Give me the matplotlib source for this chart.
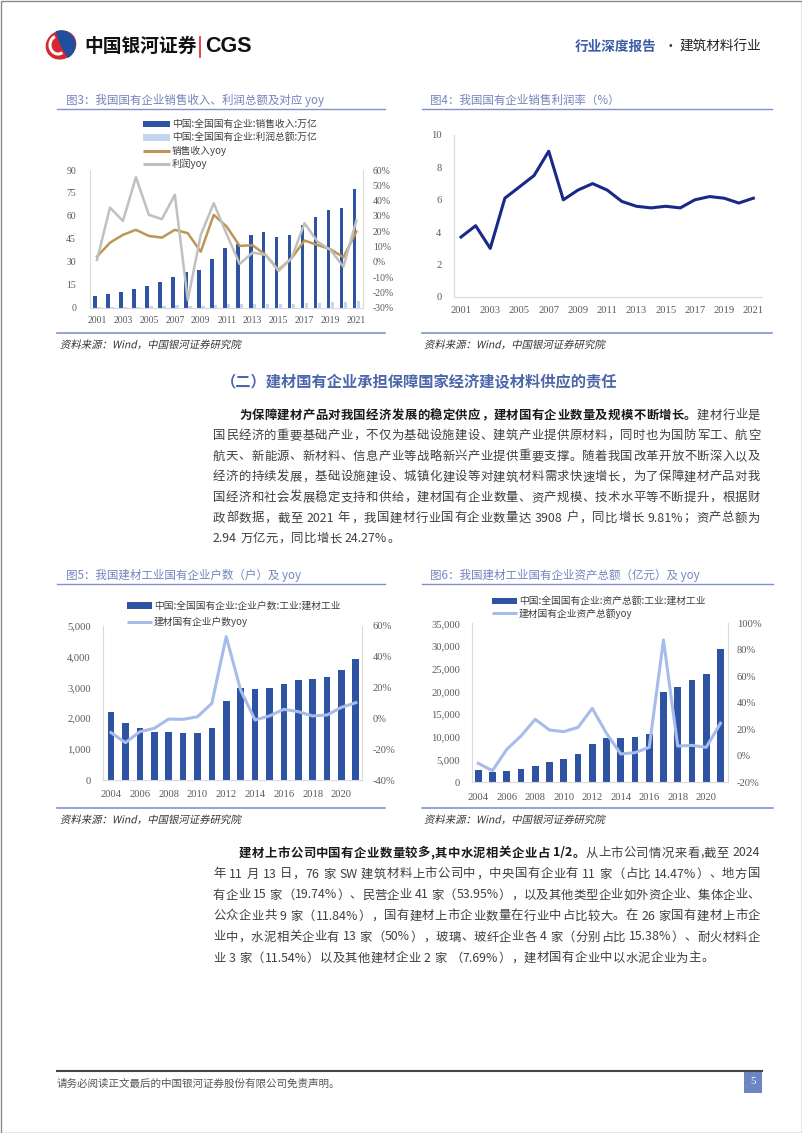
import re
import matplotlib
matplotlib.use('Agg')
import matplotlib.pyplot as plt
from matplotlib.patches import Rectangle, Ellipse, Wedge, Arc, PathPatch
from matplotlib.font_manager import FontProperties
from matplotlib.textpath import TextPath
from matplotlib.transforms import Affine2D

plt.rcParams['font.family'] = ['Noto Sans CJK SC', 'DejaVu Sans']

# 图3 数据 (万亿 / %)
years_a = [str(y) for y in range(2001, 2022)]
sales_rev = [7.8, 8.7, 10.0, 12.2, 14.2, 16.6, 19.8, 23.1, 24.6, 31.8, 38.9,
             41.5, 47.4, 49.3, 46.0, 47.8, 53.9, 59.6, 63.9, 65.0, 77.5]
profit_total = [0.28, 0.38, 0.48, 0.73, 0.90, 1.22, 1.62, 1.18, 1.33, 1.99, 2.26,
                2.15, 2.41, 2.48, 2.30, 2.31, 2.90, 3.39, 3.59, 3.42, 4.52]
sales_yoy = [3.4, 12.5, 17.6, 20.9, 16.9, 15.8, 20.9, 18.7, 6.6, 30.7, 23.0,
             10.4, 10.8, 4.5, -5.3, 2.3, 13.9, 11.0, 8.2, 3.0, 19.7]
profit_yoy = [1.2, 35.4, 26.7, 55.3, 30.7, 27.9, 43.8, -25.0, 17.6, 38.3, 18.0,
              -1.4, 6.0, 4.5, -6.0, 2.3, 25.2, 13.2, 7.8, -3.2, 27.0]

# 图4 数据 (%)
profit_margin = [3.7, 4.4, 3.0, 6.1, 6.8, 7.5, 9.0, 6.0, 6.6, 7.0, 6.6,
                 5.9, 5.6, 5.5, 5.6, 5.5, 6.0, 6.2, 6.1, 5.8, 6.1]

# 图5/图6 数据
years_b = [str(y) for y in range(2004, 2022)]
firm_count = [2192, 1836, 1674, 1555, 1544, 1523, 1534, 1685, 2560, 2991,
              2937, 2970, 3110, 3240, 3283, 3337, 3564, 3908]
firm_yoy = [-9.3, -15.8, -8.7, -6.5, -0.5, -0.7, 1.0, 9.7, 52.9, 18.3,
            -1.1, 1.5, 5.8, 4.3, 1.5, 2.1, 7.1, 10.1]
assets = [2574, 2206, 2426, 2868, 3603, 4338, 5147, 6176, 8382, 9650,
          9700, 10000, 10588, 19779, 21029, 22500, 23824, 29400]
assets_yoy = [-5.9, -11.4, 4.7, 14.8, 27.4, 19.3, 18.1, 21.3, 35.7, 16.8,
              1.2, 2.2, 6.2, 87.4, 7.2, 7.7, 6.2, 24.4]

W, H = 802, 1133
DARK = '#2f53a3'
LIGHTBAR = '#c6d5ef'
GOLD = '#bc9656'
GREY = '#c0c0c0'
NAVY = '#19298a'
LBLUE = '#a8bce9'
TITLE_C = '#7384c0'
RULE_C = '#8393c9'
TICK_C = '#595959'
SPINE_C = '#d9d9d9'
NUMFONT = ['Liberation Serif', 'Noto Sans CJK SC']

fig = plt.figure(figsize=(W / 100, H / 100), dpi=100)
page = fig.add_axes([0, 0, 1, 1])
page.set_xlim(0, W)
page.set_ylim(H, 0)
page.axis('off')


def add_ax(x0, y0, x1, y1):
    ax = fig.add_axes([x0 / W, 1 - y1 / H, (x1 - x0) / W, (y1 - y0) / H])
    ax.set_facecolor('none')
    return ax


def style_ax(ax, sides, size, pad_y, pad_x):
    for s in ['left', 'right', 'top', 'bottom']:
        ax.spines[s].set_visible(s in sides)
        ax.spines[s].set_color(SPINE_C)
    ax.tick_params(length=0, colors=TICK_C, labelsize=size)
    ax.tick_params(axis='y', pad=pad_y)
    ax.tick_params(axis='x', pad=pad_x)
    for lab in ax.get_xticklabels() + ax.get_yticklabels():
        lab.set_fontfamily(NUMFONT)


def italic_text(x, y, s, size_px, color):
    # 斜体：CJK 字体没有 italic，用错切变换模拟
    tp = TextPath((0, 0), s, size=size_px, prop=FontProperties(family='Noto Sans CJK SC'))
    tr = Affine2D().skew_deg(12, 0).scale(1, -1).translate(x, y + 0.38 * size_px) + page.transData
    page.add_patch(PathPatch(tp, transform=tr, color=color, lw=0))


# ---------- 页面框与页眉 ----------
page.add_patch(Rectangle((0.5, 0.5), W - 1, H - 1, fill=False, ec='#8c8c8c', lw=1))
page.add_patch(Ellipse((61, 45), 30, 27, angle=-30, color='#d7262f'))
page.add_patch(Wedge((61, 45), 14, 250, 60, color='#1f4f9e'))
page.add_patch(Arc((58, 45), 16, 18, theta1=60, theta2=250, color='white', lw=2.2))
page.text(84, 46.7, '中国银河证券', fontsize=13.5, fontweight='bold', color='#111', va='center')
page.plot([200, 200], [37, 57], color='#d7262f', lw=1.2)
page.text(205, 46.7, 'CGS', fontsize=15.5, fontweight='bold', color='#111', va='center',
          family=['Liberation Sans', 'DejaVu Sans'])
page.text(575, 46.7, '行业深度报告', fontsize=9.8, fontweight='bold', color='#3b5ca8', va='center')
page.text(664, 46.7, '·', fontsize=9.8, color='#333', va='center')
page.text(679, 46.7, '建筑材料行业', fontsize=9.8, color='#222', va='center')


# ---------- 图框公共元素 ----------
def frame(x0, x1, ytitle, yrule, ybottom, xt, title):
    page.text(xt, ytitle, title, fontsize=8.3, color=TITLE_C, va='center')
    page.plot([x0, x1], [yrule, yrule], color=RULE_C, lw=1)
    page.plot([x0, x1], [ybottom, ybottom], color=RULE_C, lw=1.2)
    italic_text(xt - 6, ybottom + 11, '资料来源：Wind，中国银河证券研究院', 10.4, '#333')


frame(57, 385, 100, 109.3, 333.3, 66, '图3：我国国有企业销售收入、利润总额及对应 yoy')
frame(422, 772, 100, 109, 333.3, 430, '图4：我国国有企业销售利润率（%）')
frame(57, 385, 575, 584, 808.3, 66, '图5：我国建材工业国有企业户数（户）及 yoy')
frame(422, 773, 575, 584, 808.3, 430, '图6：我国建材工业国有企业资产总额（亿元）及 yoy')


def leg_bar(x0, x1, y, color, text, size=7):
    page.add_patch(Rectangle((x0, y - 3.3), x1 - x0, 6.6, color=color, lw=0))
    page.text(x1 + 2, y, text, fontsize=size, color='#404040', va='center')


def leg_line(x0, x1, y, color, text, size=7):
    page.plot([x0, x1], [y, y], color=color, lw=2.2, solid_capstyle='butt')
    page.text(x1 + 2, y, text, fontsize=size, color='#404040', va='center')


# ---------- 图3 ----------
leg_bar(143, 170, 124, DARK, '中国:全国国有企业:销售收入:万亿')
leg_bar(143, 170, 137.3, LIGHTBAR, '中国:全国国有企业:利润总额:万亿')
leg_line(143, 170, 150.7, GOLD, '销售收入yoy')
leg_line(143, 170, 164, GREY, '利润yoy')

ax3 = add_ax(90, 170, 363, 307.7)
x3 = list(range(len(years_a)))
ax3.bar([i - 0.15 for i in x3], sales_rev, width=0.28, color=DARK)
ax3.bar([i + 0.15 for i in x3], profit_total, width=0.28, color=LIGHTBAR)
ax3.set_xlim(-0.54, 20.51)
ax3.set_ylim(0, 90)
ax3.set_yticks(range(0, 91, 15))
ax3.set_xticks(x3[::2])
ax3.set_xticklabels(years_a[::2])
style_ax(ax3, ['left', 'bottom'], 7, 10, 6)
ax3r = ax3.twinx()
ax3r.plot(x3, sales_yoy, color=GOLD, lw=1.8)
ax3r.plot(x3, profit_yoy, color=GREY, lw=1.8)
ax3r.set_ylim(-30, 60)
ax3r.set_yticks(range(-30, 61, 10))
ax3r.set_yticklabels([f'{v}%' for v in range(-30, 61, 10)])
style_ax(ax3r, ['right'], 7, 7, 6)

# ---------- 图4 ----------
ax4 = add_ax(454, 135, 762, 297)
ax4.plot(range(len(years_a)), profit_margin, color=NAVY, lw=2.2)
ax4.set_xlim(-0.48, 20.59)
ax4.set_ylim(0, 10)
ax4.set_yticks(range(0, 11, 2))
ax4.set_xticks(x3[::2])
ax4.set_xticklabels(years_a[::2])
style_ax(ax4, ['left', 'bottom'], 7.6, 9, 6.5)

# ---------- 图5 ----------
leg_bar(126.7, 151.7, 605.7, DARK, '中国:全国国有企业:企业户数:工业:建材工业')
leg_line(126.7, 151.7, 621.7, LBLUE, '建材国有企业户数yoy')

ax5 = add_ax(102.7, 625.7, 361.7, 780)
x5 = list(range(len(years_b)))
ax5.bar(x5, firm_count, width=0.46, color=DARK)
ax5.set_xlim(-0.58, 17.41)
ax5.set_ylim(0, 5000)
ax5.set_yticks(range(0, 5001, 1000))
ax5.set_yticklabels([f'{v:,}' for v in range(0, 5001, 1000)])
ax5.set_xticks(x5[::2])
ax5.set_xticklabels(years_b[::2])
style_ax(ax5, ['left', 'bottom'], 7.6, 8.5, 7)
ax5r = ax5.twinx()
ax5r.plot(x5, firm_yoy, color=LBLUE, lw=2.2)
ax5r.set_ylim(-40, 60)
ax5r.set_yticks(range(-40, 61, 20))
ax5r.set_yticklabels([f'{v}%' for v in range(-40, 61, 20)])
style_ax(ax5r, ['right'], 7.6, 8, 7)

# ---------- 图6 ----------
leg_bar(492, 517, 601, DARK, '中国:全国国有企业:资产总额:工业:建材工业')
leg_line(492, 517, 613.3, LBLUE, '建材国有企业资产总额yoy')

ax6 = add_ax(471.7, 623.3, 728.3, 782)
ax6.bar(x5, assets, width=0.47, color=DARK)
ax6.set_xlim(-0.46, 17.55)
ax6.set_ylim(0, 35000)
ax6.set_yticks(range(0, 35001, 5000))
ax6.set_yticklabels([f'{v:,}' for v in range(0, 35001, 5000)])
ax6.set_xticks(x5[::2])
ax6.set_xticklabels(years_b[::2])
style_ax(ax6, ['left', 'bottom'], 7.6, 8.4, 8)
ax6r = ax6.twinx()
ax6r.plot(x5, assets_yoy, color=LBLUE, lw=2.2)
ax6r.set_ylim(-20, 100)
ax6r.set_yticks(range(-20, 101, 20))
ax6r.set_yticklabels([f'{v}%' for v in range(-20, 101, 20)])
style_ax(ax6r, ['right'], 7.6, 6, 8)

# ---------- 正文 ----------
renderer = fig.canvas.get_renderer()
fp_reg = FontProperties(family='Noto Sans CJK SC', size=8.9)
fp_bold = FontProperties(family='Noto Sans CJK SC', size=8.9, weight='bold')


def tok_w(t, fp):
    if t == ' ':
        a = renderer.get_text_width_height_descent('a a', fp, False)[0]
        b = renderer.get_text_width_height_descent('aa', fp, False)[0]
        return a - b
    return renderer.get_text_width_height_descent(t, fp, False)[0]


def draw_line(segs, x0, x1, y, justify=True):
    toks = []
    for text, bold in segs:
        for t in re.findall(r'[A-Za-z0-9.%/]+|.', text):
            toks.append((t, bold))
    ws = [tok_w(t, fp_bold if b else fp_reg) for t, b in toks]
    gap = (x1 - x0 - sum(ws)) / (len(toks) - 1) if justify else 0.3
    x = x0
    for (t, b), w in zip(toks, ws):
        page.text(x, y, t, fontproperties=fp_bold if b else fp_reg,
                  color='#1a1a1a' if b else '#404040', va='center', ha='left')
        x += w + gap


page.text(221, 381.7, '（二）建材国有企业承担保障国家经济建设材料供应的责任',
          fontsize=11, fontweight='bold', color='#4c66aa', va='center')

L, R = 213, 760
para1 = [
    [('为保障建材产品对我国经济发展的稳定供应，建材国有企业数量及规模不断增长。', True), ('建材行业是', False)],
    [('国民经济的重要基础产业，不仅为基础设施建设、建筑产业提供原材料，同时也为国防军工、航空', False)],
    [('航天、新能源、新材料、信息产业等战略新兴产业提供重要支撑。随着我国改革开放不断深入以及', False)],
    [('经济的持续发展，基础设施建设、城镇化建设等对建筑材料需求快速增长，为了保障建材产品对我', False)],
    [('国经济和社会发展稳定支持和供给，建材国有企业数量、资产规模、技术水平等不断提升，根据财', False)],
    [('政部数据，截至 2021 年，我国建材行业国有企业数量达 3908 户，同比增长 9.81%；资产总额为', False)],
    [('2.94 万亿元，同比增长 24.27%。', False)],
]
for k, segs in enumerate(para1):
    y = 415 + 20.6 * k
    x0 = 239 if k == 0 else L
    draw_line(segs, x0, R, y, justify=(k < len(para1) - 1))

para2 = [
    [('建材上市公司中国有企业数量较多,其中水泥相关企业占 1/2。', True), ('从上市公司情况来看,截至 2024', False)],
    [('年 11 月 13 日，76 家 SW 建筑材料上市公司中，中央国有企业有 11 家（占比 14.47%）、地方国', False)],
    [('有企业 15 家（19.74%）、民营企业 41 家（53.95%），以及其他类型企业如外资企业、集体企业、', False)],
    [('公众企业共 9 家（11.84%），国有建材上市企业数量在行业中占比较大。在 26 家国有建材上市企', False)],
    [('业中，水泥相关企业有 13 家（50%），玻璃、玻纤企业各 4 家（分别占比 15.38%）、耐火材料企', False)],
    [('业 3 家（11.54%）以及其他建材企业 2 家 （7.69%），建材国有企业中以水泥企业为主。', False)],
]
for k, segs in enumerate(para2):
    y = 853 + 21 * k
    x0 = 239 if k == 0 else L
    draw_line(segs, x0, R, y, justify=(k < len(para2) - 1))

# ---------- 页脚 ----------
page.plot([57, 762], [1071, 1071], color='#444', lw=1.5)
page.text(57, 1084, '请务必阅读正文最后的中国银河证券股份有限公司免责声明。',
          fontsize=7.6, color='#555', va='center')
page.add_patch(Rectangle((744, 1071), 18, 22, color='#6b86c2', lw=0))
page.text(753, 1082, '5', fontsize=8, color='white', ha='center', va='center',
          family=['Liberation Serif', 'DejaVu Sans'])

fig.savefig('out.png', dpi=100)
